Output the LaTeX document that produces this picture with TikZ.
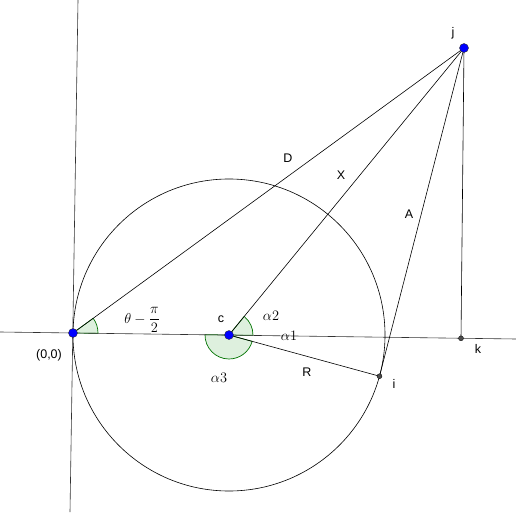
\documentclass[tikz,border=0pt]{standalone}
\usepackage{fontspec}
\setsansfont{Liberation Sans}
\begin{document}
\begin{tikzpicture}[x=1pt,y=1pt,
  ln/.style={line width=0.6pt, black},
  axis/.style={line width=0.6pt, black!80},
  anglemark/.style={draw=green!45!black, fill=green!55!black, fill opacity=0.13, line width=0.7pt},
  bluept/.style={circle, fill=blue, draw=black!80, line width=0.4pt, inner sep=0pt, minimum size=9pt},
  greypt/.style={circle, fill=black!70, draw=black, line width=0.3pt, inner sep=0pt, minimum size=5pt},
  lab/.style={font=\sffamily\fontsize{12.5}{14}\selectfont, inner sep=0pt},
  mlab/.style={font=\fontsize{14}{16}\selectfont, inner sep=0pt}]
\useasboundingbox (0,0) rectangle (516,512);
% key points
\coordinate (O) at (73,179);
\coordinate (c) at (229,177);
\coordinate (j) at (464,464);
\coordinate (k) at (461,173.7);
\coordinate (i) at (379.5,135.8);
\coordinate (axL) at (0,180);
\coordinate (axR) at (516,173);
\coordinate (ayB) at (70,0);
\coordinate (ayT) at (78,512);
% angle marks
\draw[anglemark] (O) -- ++(-0.78:25) arc[start angle=-0.78, end angle=36.09, radius=25] -- cycle;
\draw[anglemark] (c) -- ++(-0.78:24) arc[start angle=-0.78, end angle=50.7, radius=24] -- cycle;
\draw[anglemark] (c) -- ++(179.22:24) arc[start angle=179.22, end angle=344.7, radius=24] -- cycle;
% axes
\draw[axis] (axL) -- (axR);
\draw[axis] (ayB) -- (ayT);
% circle
\draw[ln] (c) circle[radius=156];
% segments
\draw[ln] (O) -- (j);
\draw[ln] (c) -- (j);
\draw[ln] (i) -- (j);
\draw[ln] (j) -- (k);
\draw[ln] (c) -- (i);
% points
\node[bluept] (Op) at (O) {};
\node[bluept] (cp) at (c) {};
\node[bluept] (jp) at (j) {};
\node[greypt] (kp) at (k) {};
\node[greypt] (ip) at (i) {};
% labels
\node[mlab] (lth) at (142,192) {$\theta-\displaystyle\frac{\pi}{2}$};
\node[lab] (lc) at (221,193) {c};
\node[mlab] (la2) at (271,196) {$\alpha2$};
\node[mlab] (la1) at (289,176) {$\alpha1$};
\node[mlab] (la3) at (219,134) {$\alpha3$};
\node[lab] (lR) at (307,140) {R};
\node[lab] (li) at (394,128) {i};
\node[lab] (lk) at (478,163) {k};
\node[lab] (lj) at (453,479) {j};
\node[lab] (lD) at (288,354) {D};
\node[lab] (lX) at (341,337) {X};
\node[lab] (lA) at (409,298) {A};
\node[lab] (lO) at (49,157) {(0,0)};
\end{tikzpicture}
\end{document}
